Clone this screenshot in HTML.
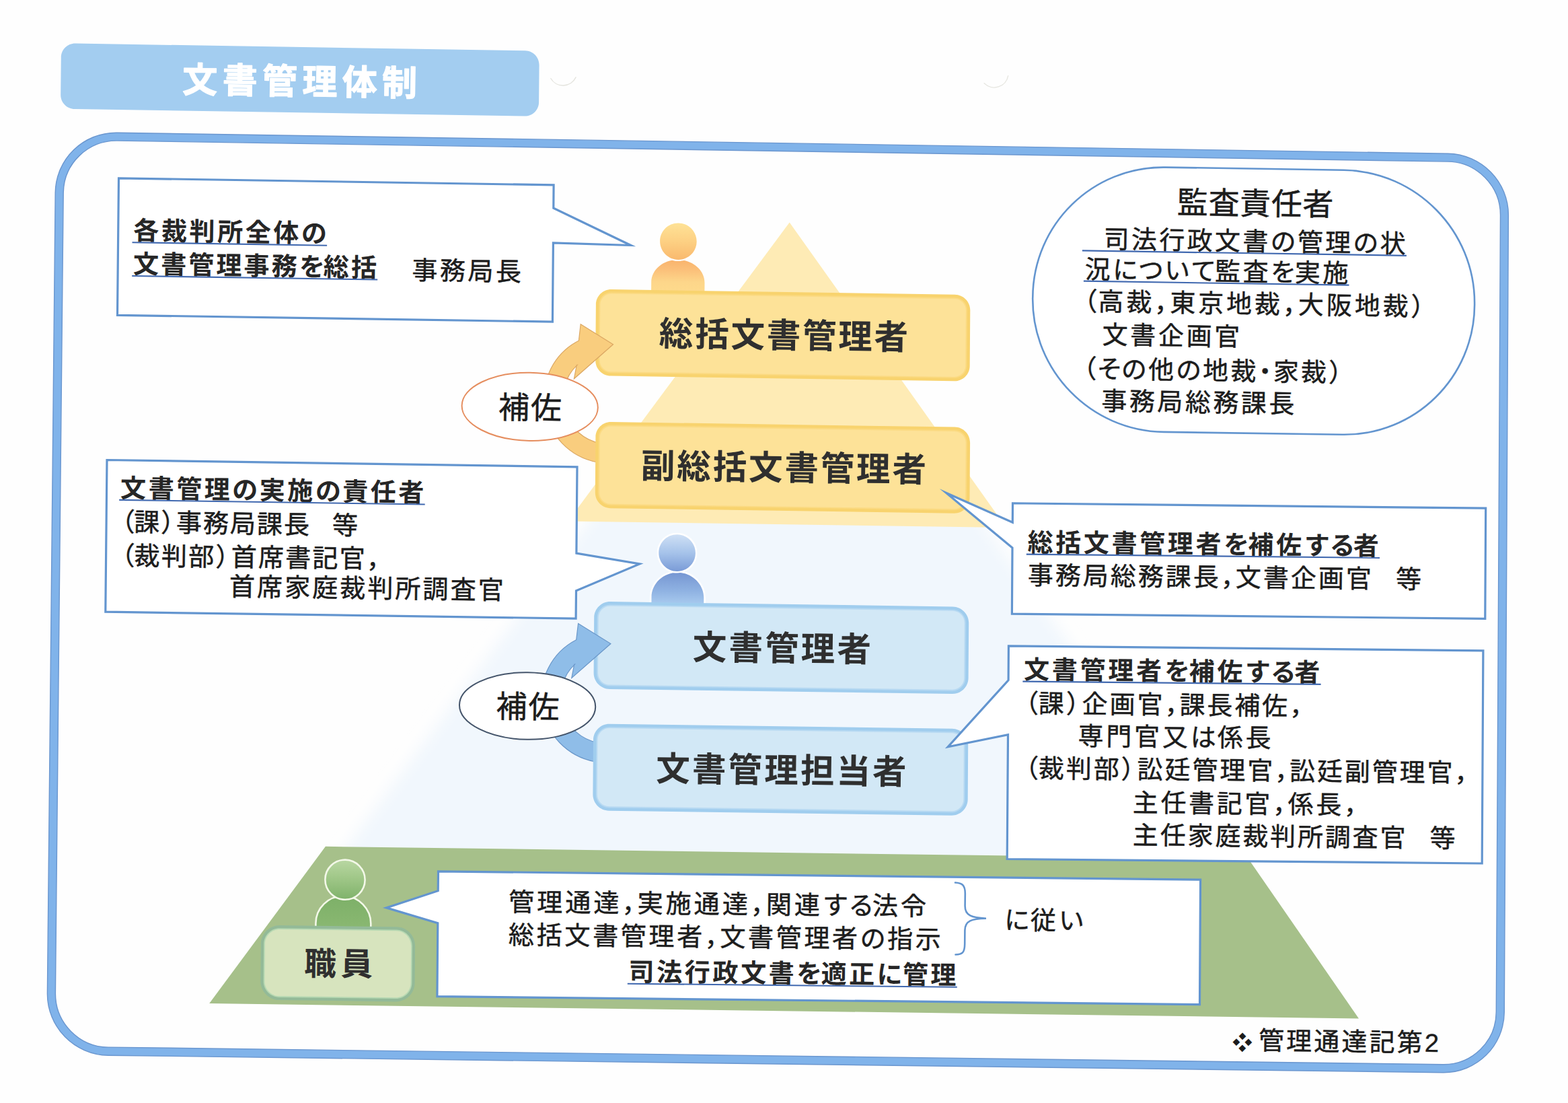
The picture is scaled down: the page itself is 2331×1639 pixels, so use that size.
<!DOCTYPE html>
<html lang="ja"><head><meta charset="utf-8"><title>文書管理体制</title>
<style>
html,body{margin:0;padding:0;background:#fefefe}
body{width:2331px;height:1639px;overflow:hidden;position:relative;font-family:"Liberation Sans","Noto Sans CJK JP",sans-serif}
svg{position:absolute;left:0;top:0;display:block}
svg text{font-family:"Liberation Sans","Noto Sans CJK JP","DejaVu Sans",sans-serif}
</style></head><body>
<svg xmlns="http://www.w3.org/2000/svg" width="2331" height="1639" viewBox="0 0 2331 1639">
<defs>
<filter id="soft" filterUnits="userSpaceOnUse" x="451" y="648.7" width="1433.9" height="748"><feGaussianBlur stdDeviation="11"/></filter>
<linearGradient id="poh" gradientUnits="userSpaceOnUse" x1="1008.6" y1="331.5" x2="1008.2" y2="385.9"><stop offset="0" stop-color="#fee296"/><stop offset="0.5" stop-color="#fdd083"/><stop offset="1" stop-color="#f9b96e"/></linearGradient>
<linearGradient id="pob" gradientUnits="userSpaceOnUse" x1="1008.2" y1="386" x2="1007.7" y2="445.9"><stop offset="0" stop-color="#f9b36c"/><stop offset="0.25" stop-color="#fbc07a"/><stop offset="0.55" stop-color="#fdd68a"/><stop offset="1" stop-color="#fedd8e"/></linearGradient>
<linearGradient id="pbh" gradientUnits="userSpaceOnUse" x1="1006.8" y1="794.3" x2="1006.4" y2="848.9"><stop offset="0" stop-color="#cfe0f5"/><stop offset="0.5" stop-color="#a6c3ea"/><stop offset="1" stop-color="#7a9bd7"/></linearGradient>
<linearGradient id="pbb" gradientUnits="userSpaceOnUse" x1="1006.4" y1="850.8" x2="1005.9" y2="910.8"><stop offset="0" stop-color="#7696d2"/><stop offset="0.45" stop-color="#8fb2e2"/><stop offset="0.8" stop-color="#a9cbef"/><stop offset="1" stop-color="#b4d3f1"/></linearGradient>
<linearGradient id="pgh" gradientUnits="userSpaceOnUse" x1="513.3" y1="1277.6" x2="512.7" y2="1336.8"><stop offset="0" stop-color="#b9d7a3"/><stop offset="0.4" stop-color="#a3c98b"/><stop offset="1" stop-color="#7fb26a"/></linearGradient>
<linearGradient id="pgb" gradientUnits="userSpaceOnUse" x1="512.8" y1="1331.5" x2="512.2" y2="1391.7"><stop offset="0" stop-color="#7db068"/><stop offset="1" stop-color="#8dba74"/></linearGradient>
</defs>
<path d="M112.1 64.6L780.8 75.3C792.4 75.5 801.7 85 801.6 96.6L801.1 151.9C801 163.5 791.5 172.7 779.9 172.6L111.1 162C99.5 161.8 90.1 152.3 90.2 140.7L90.8 85.3C90.9 73.7 100.4 64.5 112.1 64.6Z" fill="#a3cdf0"/>
<g fill="#ffffff" stroke="#ffffff" stroke-width="1.2" stroke-linejoin="round" font-weight="700" font-size="52">
<text x="271 330.4 389.8 449.2 508.5 567.9" y="136.9" transform="rotate(0.9 271 136.9)">文書管理体制</text>
</g>
<path d="M174.4 197.2L2152.4 228.2C2202.4 229 2242.7 270.2 2242.4 320.2L2236.3 1503.8C2236 1554.1 2195.2 1594.3 2145.1 1593.7L161 1568.2C110.4 1567.5 69.8 1526 70.4 1475.5L82.2 286.7C82.7 236.4 124 196.4 174.4 197.2ZM174.2 209.1L2152.4 240.1C2195.7 240.8 2230.7 276.6 2230.5 320L2224.3 1503.6C2224.1 1547.3 2188.6 1582.2 2145.1 1581.7L161.1 1556.1C117.2 1555.6 82 1519.5 82.4 1475.7L94.2 286.8C94.7 243.2 130.5 208.5 174.2 209.1Z" fill="#80b3ea" fill-rule="evenodd"/>
<path d="M174.4 197.2L2152.4 228.2C2202.4 229 2242.7 270.2 2242.4 320.2L2236.3 1503.8C2236 1554.1 2195.2 1594.3 2145.1 1593.7L161 1568.2C110.4 1567.5 69.8 1526 70.4 1475.5L82.2 286.7C82.7 236.4 124 196.4 174.4 197.2Z" fill="none" stroke="#6a96cf" stroke-width="1.4"/>
<path d="M174.2 209.1L2152.4 240.1C2195.7 240.8 2230.7 276.6 2230.5 320L2224.3 1503.6C2224.1 1547.3 2188.6 1582.2 2145.1 1581.7L161.1 1556.1C117.2 1555.6 82 1519.5 82.4 1475.7L94.2 286.8C94.7 243.2 130.5 208.5 174.2 209.1Z" fill="none" stroke="#6a96cf" stroke-width="1.4"/>
<path d="M903.8 735.3L1437.2 743.1L1844.2 1316.2L486.5 1298Z" fill="#f1f7fd" filter="url(#soft)"/>
<path d="M1173.7 330.5L1495.8 783.9L844.4 774.5Z" fill="#feebb5"/>
<path d="M483.9 1257.8L1855.9 1276.3L2020 1513.4L311.2 1491.1Z" fill="#a6c08a"/>
<path d="M968 445.3L968.2 419.1C968.4 400.5 986.3 385.7 1008.1 386C1030 386.3 1047.7 401.7 1047.5 420.3L1047.3 446.5Z" fill="url(#pob)"/>
<path d="M1037.9 359.2C1037.8 375.4 1024.4 388.4 1008.2 388.1C991.9 387.9 978.8 374.5 978.9 358.2C979 342 992.4 329 1008.6 329.3C1024.9 329.5 1038 342.9 1037.9 359.2Z" fill="#ffffff"/>
<path d="M1035.7 359.1C1035.6 374.2 1023.3 386.2 1008.2 385.9C993.1 385.7 981 373.3 981.1 358.3C981.2 343.2 993.5 331.2 1008.6 331.5C1023.7 331.7 1035.8 344.1 1035.7 359.1Z" fill="url(#poh)"/>
<path d="M968.3 910.3L968.5 887.6C968.6 867 986.2 850.5 1007.7 850.8C1029.1 851.1 1046.4 868.1 1046.3 888.7L1046.1 911.4Z" fill="#ffffff" stroke="#ffffff" stroke-width="5.2"/>
<path d="M968.3 910.3L968.5 887.6C968.6 867 986.2 850.5 1007.7 850.8C1029.1 851.1 1046.4 868.1 1046.3 888.7L1046.1 911.4Z" fill="url(#pbb)"/>
<path d="M1036.5 822C1036.4 838.5 1022.9 851.7 1006.4 851.5C989.8 851.3 976.6 837.7 976.7 821.2C976.8 804.7 990.3 791.5 1006.8 791.7C1023.4 791.9 1036.6 805.5 1036.5 822Z" fill="#ffffff"/>
<path d="M1033.9 822C1033.8 837.1 1021.5 849.1 1006.4 848.9C991.3 848.7 979.2 836.3 979.3 821.2C979.4 806.1 991.7 794.1 1006.8 794.3C1021.9 794.5 1034 806.9 1033.9 822Z" fill="url(#pbh)"/>
<path d="M909.1 430L1419.5 437.8C1432.2 438 1442.4 448.4 1442.3 461.1L1441.7 543.7C1441.6 556.3 1431.3 566.5 1418.6 566.3L908 558.6C895.3 558.4 885.1 548 885.2 535.3L885.9 452.6C886 439.9 896.4 429.8 909.1 430Z" fill="#f8d36e"/>
<path d="M909.1 434.5L1419.5 442.2C1429.7 442.4 1437.9 450.8 1437.8 461L1437.2 543.6C1437.2 553.8 1428.8 562 1418.6 561.8L908.1 554.2C897.9 554 889.6 545.6 889.7 535.4L890.4 452.7C890.5 442.5 898.8 434.3 909.1 434.5Z" fill="#fbda82"/>
<path d="M909 436.4L1419.5 444.2C1428.6 444.3 1436 451.8 1435.9 461L1435.3 543.6C1435.3 552.7 1427.8 560 1418.7 559.9L908.1 552.2C898.9 552.1 891.6 544.6 891.6 535.4L892.3 452.7C892.4 443.6 899.9 436.2 909 436.4Z" fill="#fde298"/>
<path d="M887.5 686.7C846.9 679 815.6 646.4 809.5 605.7C803.4 564.9 823.8 525 860.4 506.2L863.2 481.8L911.5 511.8L853.4 562.8L857.3 542.5L858.1 542.4C839.6 559.9 832.5 586.4 839.8 610.9C847.1 635.4 867.5 653.9 892.6 658.7Z" fill="#f9cd7e" stroke="#dba763" stroke-width="1.2" stroke-linejoin="miter"/>
<path d="M908.6 627L1419.3 634.6C1431.9 634.7 1442.1 645.2 1442.1 657.9L1441.5 740C1441.4 752.7 1431 762.9 1418.4 762.7L907.6 755.2C894.9 755 884.7 744.6 884.8 731.9L885.4 649.6C885.5 636.9 895.9 626.8 908.6 627Z" fill="#f8d36e"/>
<path d="M908.6 631.5L1419.2 639C1429.4 639.2 1437.7 647.6 1437.6 657.8L1437 740C1436.9 750.2 1428.6 758.3 1418.4 758.2L907.6 750.8C897.4 750.6 889.2 742.2 889.2 732L889.9 649.7C890 639.5 898.4 631.3 908.6 631.5Z" fill="#fbda82"/>
<path d="M908.6 633.4L1419.2 640.9C1428.4 641.1 1435.7 648.6 1435.7 657.8L1435.1 739.9C1435 749.1 1427.6 756.4 1418.4 756.3L907.6 748.8C898.5 748.7 891.1 741.2 891.2 732L891.8 649.7C891.9 640.6 899.4 633.2 908.6 633.4Z" fill="#fde298"/>
<path d="M907.5 894.1L1416.4 901.4C1429.6 901.6 1440.3 912.5 1440.2 925.7L1439.6 1007.5C1439.5 1020.7 1428.7 1031.3 1415.5 1031.1L906.4 1024C893.1 1023.8 882.5 1012.9 882.6 999.7L883.2 917.8C883.4 904.5 894.2 893.9 907.5 894.1Z" fill="#a0cdee"/>
<path d="M907.4 898.6L1416.4 905.9C1427.1 906 1435.8 914.9 1435.7 925.6L1435.2 1007.4C1435.1 1018.2 1426.3 1026.8 1415.5 1026.7L906.4 1019.5C895.7 1019.4 887 1010.5 887.1 999.7L887.7 917.9C887.8 907.1 896.6 898.4 907.4 898.6Z" fill="#b7d9f2"/>
<path d="M907.4 900.5L1416.4 907.8C1426.1 907.9 1433.9 915.9 1433.8 925.6L1433.2 1007.4C1433.2 1017.1 1425.3 1024.9 1415.5 1024.7L906.5 1017.6C896.7 1017.5 888.9 1009.5 889 999.7L889.7 917.9C889.7 908.2 897.7 900.4 907.4 900.5Z" fill="#d2e8f6"/>
<path d="M883.8 1131.6C843.3 1123.9 811.9 1091.3 805.8 1050.5C799.7 1009.7 820.2 969.6 856.7 950.8L859.6 926.5L907.9 956.5L849.8 1007.5L853.7 987.2L854.5 987.1C835.9 1004.6 828.8 1031.1 836.1 1055.7C843.4 1080.3 863.8 1098.8 889 1103.6Z" fill="#8fbde8" stroke="#6a97c9" stroke-width="1.2" stroke-linejoin="miter"/>
<path d="M906.3 1075.7L1415.4 1082.8C1428.6 1083 1439.3 1093.9 1439.2 1107.1L1438.7 1188C1438.6 1201.2 1427.7 1211.9 1414.5 1211.7L905.2 1204.7C891.9 1204.6 881.3 1193.6 881.4 1180.4L882 1099.4C882.1 1086.2 893 1075.5 906.3 1075.7Z" fill="#a0cdee"/>
<path d="M906.2 1080.2L1415.4 1087.3C1426.1 1087.4 1434.8 1096.3 1434.7 1107.1L1434.2 1187.9C1434.1 1198.7 1425.3 1207.3 1414.5 1207.2L905.2 1200.2C894.5 1200.1 885.8 1191.2 885.9 1180.4L886.5 1099.5C886.6 1088.7 895.4 1080.1 906.2 1080.2Z" fill="#b7d9f2"/>
<path d="M906.2 1082.1L1415.4 1089.2C1425.1 1089.3 1432.9 1097.3 1432.8 1107.1L1432.3 1187.9C1432.2 1197.6 1424.3 1205.4 1414.5 1205.3L905.3 1198.3C895.5 1198.2 887.7 1190.2 887.8 1180.4L888.4 1099.5C888.5 1089.8 896.5 1082 906.2 1082.1Z" fill="#d2e8f6"/>
<path d="M888.8 605.8C888.5 633.7 843.1 655.7 787.3 654.9C731.4 654.1 686.4 630.7 686.6 602.8C686.8 574.9 732.3 552.9 788.1 553.7C843.9 554.6 889 577.9 888.8 605.8Z" fill="#ffffff" stroke="#e58d5e" stroke-width="2"/>
<path d="M885.2 1050.4C884.9 1077.9 839.5 1099.5 783.7 1098.8C727.8 1098 682.8 1075.1 683 1047.6C683.2 1020.1 728.7 998.5 784.5 999.2C840.3 1000 885.4 1022.9 885.2 1050.4Z" fill="#ffffff" stroke="#44546a" stroke-width="2"/>
<path d="M469.2 1391.2L469.4 1371.9C469.6 1349.3 488.1 1331.2 510.7 1331.5C533.3 1331.8 551.5 1350.4 551.3 1373L551.1 1392.2Z" fill="url(#pgb)" stroke="#f3f8e8" stroke-width="2.6"/>
<path d="M542.6 1307.6C542.5 1323.9 529.1 1337 512.7 1336.8C496.4 1336.6 483.2 1323.1 483.4 1306.8C483.5 1290.5 496.9 1277.4 513.3 1277.6C529.6 1277.8 542.7 1291.3 542.6 1307.6Z" fill="url(#pgh)" stroke="#f3f8e8" stroke-width="2.6"/>
<path d="M416.2 1375L589.3 1377.3C604.8 1377.5 617.2 1390.2 617.1 1405.7L616.6 1460.6C616.5 1476.1 603.8 1488.6 588.3 1488.4L415.2 1486.1C399.7 1485.9 387.2 1473.1 387.3 1457.6L387.9 1402.7C388 1387.2 400.7 1374.8 416.2 1375Z" fill="#93ba98"/>
<path d="M416.2 1379.2L589.2 1381.5C602.4 1381.7 613 1392.5 612.9 1405.7L612.4 1460.6C612.3 1473.8 601.5 1484.3 588.3 1484.1L415.2 1481.9C402 1481.7 391.4 1470.9 391.6 1457.7L392.1 1402.8C392.2 1389.6 403 1379 416.2 1379.2Z" fill="#b6d8b2"/>
<path d="M416.2 1381L589.2 1383.3C601.4 1383.4 611.2 1393.5 611.1 1405.7L610.6 1460.5C610.5 1472.7 600.5 1482.5 588.3 1482.3L415.3 1480.1C403.1 1479.9 393.3 1469.9 393.4 1457.7L393.9 1402.8C394 1390.6 404 1380.8 416.2 1381Z" fill="#d7e4be"/>
<path d="M176.5 264.8L823.1 274.9L822.8 309.3L937.7 364.5L822.4 360.8L821.4 478.1L174.5 468.3Z" fill="#ffffff" stroke="#6395cf" stroke-width="3.2" stroke-linejoin="miter" stroke-miterlimit="30"/>
<path d="M159 683.5L858 693.8L856.9 822.2L950.9 838L856.5 877.7L856.1 919.1L156.8 909.2Z" fill="#ffffff" stroke="#6395cf" stroke-width="3.2" stroke-linejoin="miter" stroke-miterlimit="30"/>
<path d="M1505.5 747.8L2208.7 755.2L2207.8 919.3L1504.4 912.1L1505 814.1L1406.7 732.5L1505.3 776.3Z" fill="#ffffff" stroke="#6395cf" stroke-width="3.2" stroke-linejoin="miter" stroke-miterlimit="30"/>
<path d="M1499.4 959.8L2204.9 966.8L2203.2 1283L1497.2 1276.5L1498.5 1091.6L1409.3 1109.8L1499.1 1010.7Z" fill="#ffffff" stroke="#6395cf" stroke-width="3.2" stroke-linejoin="miter" stroke-miterlimit="30"/>
<path d="M651.5 1294.8L1784.6 1307.2L1783.5 1492.6L649.9 1480.7L650.8 1371.6L574.3 1348.9L651.2 1323.7Z" fill="#ffffff" stroke="#6395cf" stroke-width="3.2" stroke-linejoin="miter" stroke-miterlimit="30"/>
<path d="M1732.4 248.6L1997.7 252.8C2105.6 254.5 2192.7 343.4 2192.1 451.5L2192.1 452.9C2191.5 561 2103.5 647.4 1995.4 645.8L1729.9 641.9C1621.7 640.3 1534.5 551.2 1535.2 442.9L1535.3 441.4C1536 333.3 1624.3 247 1732.4 248.6Z" fill="#ffffff" stroke="#6395cf" stroke-width="2.6"/>
<path d="M1420 1311.5C1430 1312.1 1434.8 1314.7 1434.8 1327.7L1434.6 1346.3C1434.5 1360.3 1444.5 1363.9 1466 1364.7C1444.5 1364.9 1434.5 1368.3 1434.4 1382.3L1434.2 1402.7C1434.1 1415.7 1430.5 1418.1 1420.5 1418.5" fill="none" stroke="#6395cf" stroke-width="2.6" stroke-linecap="round"/>
<g fill="#2f2f2f" font-weight="700" font-size="50.5">
<text x="979.6 1032.9 1086.2 1139.5 1192.8 1246 1299.3" y="513.5" transform="rotate(0.9 979.6 513.5)">総括文書管理者</text>
</g>
<g fill="#2f2f2f" font-weight="700" font-size="50.5">
<text x="952.7 1006.1 1059.5 1112.8 1166.2 1219.5 1272.9 1326.2" y="710.1" transform="rotate(0.8 952.7 710.1)">副総括文書管理者</text>
</g>
<g fill="#2f2f2f" font-weight="700" font-size="50.5">
<text x="1029.6 1083.3 1137 1190.6 1244.3" y="979.6" transform="rotate(0.8 1029.6 979.6)">文書管理者</text>
</g>
<g fill="#2f2f2f" font-weight="700" font-size="50.5">
<text x="975 1028.7 1082.3 1136 1189.7 1243.3 1296.9" y="1160.1" transform="rotate(0.8 975 1160.1)">文書管理担当者</text>
</g>
<g fill="#2f2f2f" font-weight="700" font-size="47.8">
<text x="452.1 506.3" y="1448.7" transform="rotate(0.72 452.1 1448.7)">職員</text>
</g>
<g fill="#1c1c1c" stroke="#1c1c1c" stroke-width="0.5" font-size="46">
<text x="740.8 788.8" y="621.5" transform="rotate(0.87 740.8 621.5)">補佐</text>
</g>
<g fill="#1c1c1c" stroke="#1c1c1c" stroke-width="0.5" font-size="46.1">
<text x="737.2 785.3" y="1066.1" transform="rotate(0.75 737.2 1066.1)">補佐</text>
</g>
<g fill="#262626" font-weight="700" font-size="38.1">
<text x="198.1 239.7 281.3 322.9 364.5 406.1 447.7" y="356.1" transform="rotate(0.9 198.1 356.1)">各裁判所全体の</text>
</g>
<path d="M196.5 360.2L486.1 364.7" stroke="#4169b0" stroke-width="2.1" fill="none"/>
<g fill="#262626" font-weight="700" font-size="38.1">
<text x="197.8 239 280.1 321.3 362.4 403.6 444.7 480.5 521.7" y="405.8" transform="rotate(0.9 197.8 405.8)">文書管理事務を総括</text>
</g>
<path d="M196.2 410L561.2 415.5" stroke="#4169b0" stroke-width="2.1" fill="none"/>
<g fill="#1c1c1c" stroke="#1c1c1c" stroke-width="0.5" font-size="38">
<text x="612.2 653.7 695.2 736.7" y="414.9" transform="rotate(0.9 612.2 414.9)">事務局長</text>
</g>
<g fill="#1c1c1c" stroke="#1c1c1c" stroke-width="0.5" font-size="45.8">
<text x="1749.7 1796.4 1843.1 1889.7 1936.4" y="317" transform="rotate(0.88 1749.7 317)">監査責任者</text>
</g>
<g fill="#1c1c1c" stroke="#1c1c1c" stroke-width="0.5" font-size="37.9">
<text x="1640.4 1681.8 1723.2 1764.5 1805.9 1847.2 1888.6 1928.8 1970.1 2011.4 2051.6" y="368.7" transform="rotate(0.9 1640.4 368.7)">司法行政文書の管理の状</text>
</g>
<path d="M1608.9 372.4L2090.9 379.8" stroke="#4169b0" stroke-width="2.2" fill="none"/>
<g fill="#1c1c1c" stroke="#1c1c1c" stroke-width="0.5" font-size="37.9">
<text x="1612.5 1653.9 1691.8 1730.9 1769.7 1806.1 1847.5 1888.8 1924.9 1966.2" y="413.5" transform="rotate(0.9 1612.5 413.5)">況について監査を実施</text>
</g>
<path d="M1610.9 417.7L2005.5 423.7" stroke="#4169b0" stroke-width="2.2" fill="none"/>
<g fill="#1c1c1c" stroke="#1c1c1c" stroke-width="0.5" font-size="37.9">
<text x="1593.3 1632.2 1674.2 1716.1 1739.2 1781.1 1823 1864.9 1906.9 1929.9 1971.8 2013.7 2055.6 2097.4" y="461" transform="rotate(0.9 1593.3 461)">（高裁，東京地裁，大阪地裁）</text>
</g>
<g fill="#1c1c1c" stroke="#1c1c1c" stroke-width="0.5" font-size="37.9">
<text x="1638.5 1680.1 1721.8 1763.4 1805.1" y="510.8" transform="rotate(0.9 1638.5 510.8)">文書企画官</text>
</g>
<g fill="#1c1c1c" stroke="#1c1c1c" stroke-width="0.5" font-size="37.9">
<text x="1592.3 1630.5 1666.8 1706.9 1748.1 1788.1 1829.3 1861.5 1892.8 1933.9 1975.1" y="561" transform="rotate(0.9 1592.3 561)">（その他の地裁・家裁）</text>
</g>
<g fill="#1c1c1c" stroke="#1c1c1c" stroke-width="0.5" font-size="37.9">
<text x="1637.3 1678.8 1720.3 1761.8 1803.2 1844.7 1886.2" y="609.2" transform="rotate(0.9 1637.3 609.2)">事務局総務課長</text>
</g>
<g fill="#262626" font-weight="700" font-size="38.1">
<text x="178.8 220.4 262 303.5 345.1 385.6 427.1 468.7 509.1 550.6 592.1" y="738.7" transform="rotate(0.9 178.8 738.7)">文書管理の実施の責任者</text>
</g>
<path d="M177.2 742.9L631.7 749.5" stroke="#4169b0" stroke-width="2.1" fill="none"/>
<g fill="#1c1c1c" stroke="#1c1c1c" stroke-width="0.5" font-size="38.1">
<text x="162.2 199 239 261.8 301.8 341.7 381.7 421.7 457.8 493.9" y="788.7" transform="rotate(0.9 162.2 788.7)">（課）事務局課長　等</text>
</g>
<g fill="#1c1c1c" stroke="#1c1c1c" stroke-width="0.5" font-size="38.1">
<text x="162.2 199.3 239.7 280 320.3 343.4 383.7 424 464.3 504.6 544.9" y="838.9" transform="rotate(0.75 162.2 838.9)">（裁判部）首席書記官，</text>
</g>
<g fill="#1c1c1c" stroke="#1c1c1c" stroke-width="0.5" font-size="38.1">
<text x="340.7 381.8 422.9 464 505.1 546.2 587.3 628.4 669.5 710.5" y="885.1" transform="rotate(0.75 340.7 885.1)">首席家庭裁判所調査官</text>
</g>
<g fill="#262626" font-weight="700" font-size="37.9">
<text x="1527.4 1569.1 1610.8 1652.4 1694.1 1735.8 1777.4 1819.1 1855.4 1897.1 1938.7 1976.5 2011.7" y="819.4" transform="rotate(0.6 1527.4 819.4)">総括文書管理者を補佐する者</text>
</g>
<path d="M1525.8 823.6L2051.1 828.9" stroke="#4169b0" stroke-width="2.1" fill="none"/>
<g fill="#1c1c1c" stroke="#1c1c1c" stroke-width="0.5" font-size="37.9">
<text x="1527.7 1568.8 1609.8 1650.8 1691.8 1732.8 1773.8 1814.8 1836.8 1877.8 1918.8 1959.7 2000.7 2041.7 2075" y="868.3" transform="rotate(0.6 1527.7 868.3)">事務局総務課長，文書企画官　等</text>
</g>
<g fill="#262626" font-weight="700" font-size="37.9">
<text x="1521.9 1563.7 1605.5 1647.3 1689.1 1730.9 1767.4 1809.2 1850.9 1888.9 1924.2" y="1008.4" transform="rotate(0.6 1521.9 1008.4)">文書管理者を補佐する者</text>
</g>
<path d="M1520.4 1012.6L1963.6 1016.9" stroke="#4169b0" stroke-width="2.1" fill="none"/>
<g fill="#1c1c1c" stroke="#1c1c1c" stroke-width="0.5" font-size="37.9">
<text x="1505.9 1543.8 1584.7 1608.6 1649.6 1690.5 1731.4 1753.4 1794.3 1835.2 1876.1 1917" y="1058.4" transform="rotate(0.6 1505.9 1058.4)">（課）企画官，課長補佐，</text>
</g>
<g fill="#1c1c1c" stroke="#1c1c1c" stroke-width="0.5" font-size="37.9">
<text x="1602.4 1644.2 1686.1 1728 1769.8 1809.8 1851.6" y="1107.2" transform="rotate(0.6 1602.4 1107.2)">専門官又は係長</text>
</g>
<g fill="#1c1c1c" stroke="#1c1c1c" stroke-width="0.5" font-size="37.9">
<text x="1505.9 1543.8 1584.7 1625.7 1666.6 1690.5 1731.4 1772.4 1813.3 1854.2 1895.1 1917.1 1958 1998.8 2039.7 2080.6 2121.5 2162.3" y="1154.9" transform="rotate(0.6 1505.9 1154.9)">（裁判部）訟廷管理官，訟廷副管理官，</text>
</g>
<g fill="#1c1c1c" stroke="#1c1c1c" stroke-width="0.5" font-size="37.9">
<text x="1683.8 1725.5 1767.1 1808.7 1850.3 1891.9 1914.6 1956.2 1997.7" y="1206.2" transform="rotate(0.6 1683.8 1206.2)">主任書記官，係長，</text>
</g>
<g fill="#1c1c1c" stroke="#1c1c1c" stroke-width="0.5" font-size="37.9">
<text x="1683.8 1724.7 1765.6 1806.4 1847.3 1888.1 1929 1969.8 2010.6 2051.5 2092.3 2125.5" y="1254.4" transform="rotate(0.6 1683.8 1254.4)">主任家庭裁判所調査官　等</text>
</g>
<g fill="#1c1c1c" stroke="#1c1c1c" stroke-width="0.5" font-size="38.1">
<text x="756 798.1 840.2 882.3 924.4 947.5 989.6 1031.6 1073.7 1115.8 1138.8 1180.9 1222.9 1261.2 1296.7 1338.8" y="1353.7" transform="rotate(0.6 756 1353.7)">管理通達，実施通達，関連する法令</text>
</g>
<g fill="#1c1c1c" stroke="#1c1c1c" stroke-width="0.5" font-size="38.1">
<text x="755.8 797.5 839.2 880.9 922.6 964.3 1005.9 1047.6 1070.2 1111.9 1153.6 1195.2 1236.8 1278.5 1319 1360.6" y="1402.7" transform="rotate(0.6 755.8 1402.7)">総括文書管理者，文書管理者の指示</text>
</g>
<g fill="#262626" font-weight="700" font-size="38.1">
<text x="934.3 976 1017.6 1059.2 1100.9 1142.5 1184.1 1220.4 1262 1303.6 1341.8 1383.3" y="1457.5" transform="rotate(0.6 934.3 1457.5)">司法行政文書を適正に管理</text>
</g>
<path d="M932.8 1461.7L1422.8 1466.8" stroke="#4169b0" stroke-width="2.1" fill="none"/>
<g fill="#1c1c1c" stroke="#1c1c1c" stroke-width="0.5" font-size="38">
<text x="1493 1531.7 1573.8" y="1380.5" transform="rotate(0.6 1493 1380.5)">に従い</text>
</g>
<g fill="#1c1c1c" font-size="30">
<text x="1831.8" y="1559.9" transform="rotate(0.76 1831.8 1559.9)">❖</text>
</g>
<g fill="#1c1c1c" stroke="#1c1c1c" stroke-width="0.5" font-size="37.9">
<text x="1870.9 1912 1953.2 1994.3 2035.5 2076.6 2117.7" y="1559.6" transform="rotate(0.76 1870.9 1559.6)">管理通達記第2</text>
</g>
<path d="M856 114.9A21 21 0 0 1 818.8 116.5" fill="none" stroke="#e4e4de" stroke-width="1.4" stroke-linecap="round"/>
<path d="M1498.7 112.6A21 21 0 0 1 1463.2 123.8" fill="none" stroke="#e6e6e0" stroke-width="1.4" stroke-linecap="round"/>
</svg>
</body></html>
